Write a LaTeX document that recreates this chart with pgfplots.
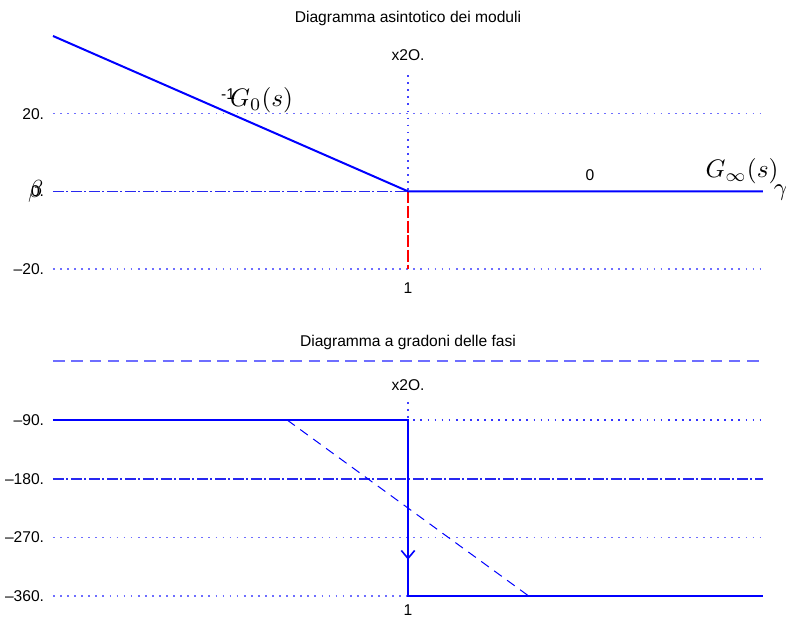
\documentclass[border=0pt]{standalone}
\usepackage[no-math]{fontspec}
\setmainfont{Liberation Sans}
\usepackage{graphicx}
\usepackage{pgfplots}
\pgfplotsset{compat=1.18}
\usetikzlibrary{arrows.meta}

\definecolor{curve}{RGB}{0,0,255}
\definecolor{gridc}{RGB}{110,110,255}
\definecolor{axisc}{RGB}{40,40,240}

\newcommand{\lbl}{\fontsize{11.7}{14}\selectfont}
% math labels, set at 10pt and enlarged
\newcommand{\mlbl}[1]{\scalebox{1.9}{$#1$}}
\newcommand{\glbl}[1]{\scalebox{1.85}{$#1$}}

\pgfplotsset{
  bodeaxis/.style={
    scale only axis, width=532.5pt, xmin=-2, xmax=2,
    axis line style={draw=none}, tick style={draw=none},
    clip=false, xtick={0}, xticklabels={1},
    ticklabel style={font=\lbl, inner sep=0pt},
    yticklabel style={xshift=-6.5pt},
  },
  gridline/.style={gridc, line width=1.1pt, dash pattern=on 1.3pt off 4pt},
  dashdot/.style={axisc, line width=1.2pt, dash pattern=on 8pt off 2pt on 1.5pt off 2pt},
}

\begin{document}
\begin{tikzpicture}
\useasboundingbox (0,0) rectangle (589.5pt,462.75pt);

% Magnitude: asymptotic diagram
\begin{axis}[bodeaxis, at={(39.75pt,261pt)}, anchor=south west,
  height=174.75pt, ymin=-20, ymax=40,
  ytick={-20,0,20}, yticklabels={–20.,0.,20.},
  xticklabel style={yshift=-10pt}]
  \addplot[gridline] coordinates {(-2,20) (2,20)};
  \addplot[gridline] coordinates {(-2,-20) (2,-20)};
  \addplot[dashdot] coordinates {(-2,0) (2,0)};
  \addplot[gridline, curve!75] coordinates {(0,29.9) (0,0)};
  \addplot[red, line width=0.9pt, dash pattern=on 9pt off 2pt] coordinates {(0,0) (0,-20)};
  \addplot[curve, line width=1.5pt] coordinates {(-2,40) (0,0) (2,0)};
  \node[font=\lbl] at (axis cs:0,44.6) {Diagramma asintotico dei moduli};
  \node[font=\lbl] at (axis cs:0,35.1) {x2O.};
  \node[font=\lbl] at (axis cs:1.025,4.1) {0};
  \node[font=\lbl, anchor=base west, inner sep=0pt] at (axis cs:-1.054,23.6) {-1};
  \node[anchor=base west, inner sep=0pt] at (axis cs:-1.003,21.9) {\mlbl{G_0(s)}};
  \node[anchor=base west, inner sep=0pt] at (axis cs:1.675,3.5) {\mlbl{G_\infty(s)}};
  \node[anchor=base west, inner sep=0pt] at (axis cs:2.06,-1.03) {\glbl{\gamma}};
  \node[anchor=base west, inner sep=0pt] at (axis cs:-2.141,-1.65) {\glbl{\beta}};
\end{axis}

% Phase: step diagram
\begin{axis}[bodeaxis, at={(39.75pt,15.75pt)}, anchor=south west,
  height=175.9pt, ymin=-360, ymax=0,
  ytick={-360,-270,-180,-90}, yticklabels={–360.,–270.,–180.,–90.},
  xticklabel style={yshift=-6.4pt}]
  \addplot[gridc, line width=1.5pt, dash pattern=on 8.7pt off 5pt] coordinates {(-2,0) (2,0)};
  \addplot[gridline, curve!80] coordinates {(-2,-90) (2,-90)};
  \addplot[dashdot] coordinates {(-2,-180) (2,-180)};
  \addplot[gridline] coordinates {(-2,-270) (2,-270)};
  \addplot[gridline] coordinates {(-2,-360) (2,-360)};
  \addplot[gridline, curve!75] coordinates {(0,-62) (0,-90)};
  \addplot[curve, line width=0.75pt, dash pattern=on 7pt off 5pt] coordinates {(-0.68,-90) (0.68,-360)};
  \addplot[curve, line width=1.5pt] coordinates {(-2,-90) (0,-90) (0,-360) (2,-360)};
  \addplot[curve, line width=1.2pt, -{Straight Barb[length=6pt,width=10pt]}] coordinates {(0,-90) (0,-304.3)};
  \node[font=\lbl] at (axis cs:0,28.4) {Diagramma a gradoni delle fasi};
  \node[font=\lbl] at (axis cs:0,-36) {x2O.};
\end{axis}
\end{tikzpicture}
\end{document}
